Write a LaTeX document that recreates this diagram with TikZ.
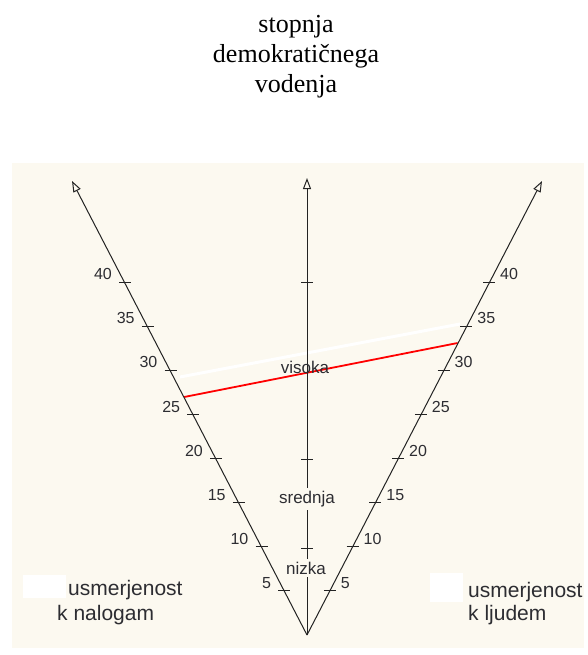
\documentclass[tikz,border=0pt]{standalone}
\usepackage{fontspec}
\setmainfont{Liberation Serif}
\newfontfamily\arialfont{Liberation Sans}
\usetikzlibrary{arrows.meta}
\definecolor{cream}{RGB}{252,249,240}
\definecolor{axisgray}{RGB}{35,35,35}
\definecolor{txtgray}{RGB}{45,45,50}
\tikzset{
  axisline/.style={draw=axisgray, line width=1pt, -{Triangle[open, length=11pt, width=8pt]}},
  tickmark/.style={draw=axisgray, line width=1pt},
  numlbl/.style={font=\arialfont\fontsize{16}{18}\selectfont, text=txtgray, inner sep=0pt},
  midlbl/.style={font=\arialfont\fontsize{17}{19}\selectfont, text=txtgray, inner sep=1pt},
  sidelbl/.style={font=\arialfont\fontsize{21}{24}\selectfont, text=txtgray, inner sep=0pt, anchor=base west},
  titlelbl/.style={font=\fontsize{26}{30}\selectfont, text=black, inner sep=0pt, anchor=base},
}
\begin{document}
\begin{tikzpicture}[x=1pt,y=-1pt]
\useasboundingbox (0,0) rectangle (588,655);
\fill[white] (0,0) rectangle (588,655);
% title
\node[titlelbl] (t1) at (296,33) {stopnja};
\node[titlelbl] (t2) at (296,63) {demokratičnega};
\node[titlelbl] (t3) at (296,93) {vodenja};
% background panel
\fill[cream] (12,163) rectangle (584,648);
% axes
\coordinate (A) at (307,635);
\coordinate (LT) at (72,181);
\coordinate (RT) at (542,181);
\coordinate (CT) at (307,178);
% white line and red line
\coordinate (WL) at (180,377);
\coordinate (WR) at (460,324);
\draw[white, line width=3pt] (WL) -- (WR);
\coordinate (RL) at (184.2,397);
\coordinate (RR) at (457.6,343);
\draw[red, line width=1.8pt] (RL) -- (RR);
\draw[axisline] (A) -- (LT);
\draw[axisline] (A) -- (RT);
\draw[axisline] (A) -- (CT);
% ticks and labels on side axes
\foreach \k in {1,...,8}{
  \pgfmathsetmacro{\dx}{22.75*\k}
  \pgfmathsetmacro{\yy}{635-44.1*\k}
  \pgfmathtruncatemacro{\val}{5*\k}
  \coordinate (L\k) at ({307-\dx},\yy);
  \coordinate (R\k) at ({307+\dx},\yy);
  \draw[tickmark] ([xshift=-6pt]L\k) -- ([xshift=6pt]L\k);
  \draw[tickmark] ([xshift=-6pt]R\k) -- ([xshift=6pt]R\k);
  \node[numlbl, anchor=east] (nl\k) at ([xshift=-13pt,yshift=8pt]L\k) {\val};
  \node[numlbl, anchor=west] (nr\k) at ([xshift=11pt,yshift=8pt]R\k) {\val};
}
% center ticks
\foreach \y in {282,459,548}{
  \draw[tickmark] (301,\y) -- (313,\y);
}
% center labels
\node[midlbl] (vis) at (305,367) {visoka};
\node[midlbl, fill=cream, inner ysep=3pt] (sre) at (307,499) {srednja};
\node[midlbl, fill=cream, inner ysep=3pt] (niz) at (306,568) {nizka};
% bottom labels
\fill[white] (23,575) rectangle (66,598);
\fill[white] (430,573) rectangle (463,602);
\node[sidelbl] (ul) at (68,595) {usmerjenost};
\node[sidelbl] (kl) at (57,620) {k nalogam};
\node[sidelbl] (ur) at (468,597) {usmerjenost};
\node[sidelbl] (kr) at (468,620) {k ljudem};
\end{tikzpicture}
\end{document}
